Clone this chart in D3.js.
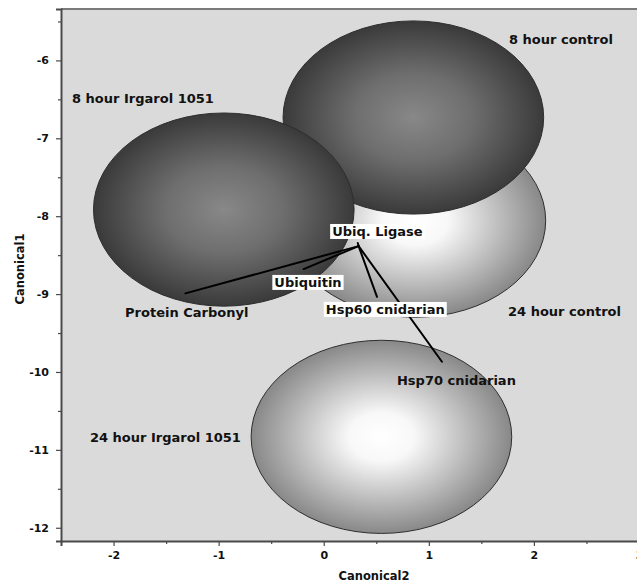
<!DOCTYPE html>
<html>
<head>
<meta charset="utf-8">
<script src="https://cdn.jsdelivr.net/npm/d3@7/dist/d3.min.js"></script>
<style>
  html, body { margin: 0; padding: 0; background: #fff; }
  svg { display: block; }
  text { font-family: "DejaVu Sans", Verdana, sans-serif; font-weight: bold; fill: #111; }
</style>
</head>
<body>
<script>
// Group centroids in canonical space (Canonical2, Canonical1) and their circle radius
const groups = ["8 hour control", "24 hour control", "8 hour Irgarol 1051", "24 hour Irgarol 1051"];
const groupX = [0.853, 0.872, -0.951, 0.549];
const groupY = [-6.733, -8.057, -7.915, -10.833];
const groupRadius = [1.24, 1.24, 1.24, 1.24];
const groupShade = ["dark", "light", "dark", "light"];
// Group name anchors (left / baseline), canonical units
const groupLabelX = [1.763, 1.754, -2.395, -2.224];
const groupLabelY = [-5.79, -9.281, -6.547, -10.899];

// Response variable vectors from the biplot origin
const vecOrigin = [0.332, -8.384];
const variables = ["Protein Carbonyl", "Ubiquitin", "Ubiq. Ligase", "Hsp60 cnidarian", "Hsp70 cnidarian"];
const vecX = [-1.316, -0.191, 0.324, 0.507, 1.125];
const vecY = [-8.991, -8.679, -8.345, -9.035, -9.869];
const varBoxed = [false, true, true, true, false];
const varLabelX = [-1.89, -0.47, 0.08, 0.02, 0.697];
const varLabelY = [-9.29, -8.908, -8.254, -9.255, -10.167];

// Axis ticks
const xTicks = [-2, -1, 0, 1, 2, 3];
const xMinor = [-1.5, -0.5, 0.5, 1.5, 2.5];
const yTicks = [-12, -11, -10, -9, -8, -7, -6];
const yMinor = [-11.5, -10.5, -9.5, -8.5, -7.5, -6.5, -5.5];

const W = 637, H = 585;
const pL = 61, pR = 639, pT = 9, pB = 541;

const x = d3.scaleLinear().domain([-2.5, 3]).range([pL, pR]);
const y = d3.scaleLinear().domain([-12.17, -5.34]).range([pB, pT]);

const svg = d3.select("body").append("svg").attr("width", W).attr("height", H);

const defs = svg.append("defs");
const dark = defs.append("radialGradient").attr("id", "g-dark");
dark.append("stop").attr("offset", "0%").attr("stop-color", "#888888");
dark.append("stop").attr("offset", "45%").attr("stop-color", "#6e6e6e");
dark.append("stop").attr("offset", "100%").attr("stop-color", "#3a3a3a");
const light = defs.append("radialGradient").attr("id", "g-light");
light.append("stop").attr("offset", "0%").attr("stop-color", "#ffffff");
light.append("stop").attr("offset", "25%").attr("stop-color", "#f8f8f8");
light.append("stop").attr("offset", "100%").attr("stop-color", "#888888");
defs.append("clipPath").attr("id", "plot-clip")
  .append("rect").attr("x", pL).attr("y", pT).attr("width", pR - pL).attr("height", pB - pT);

// Plot background
svg.append("rect").attr("x", pL).attr("y", pT).attr("width", pR - pL).attr("height", pB - pT)
  .attr("fill", "#dadada");

const plot = svg.append("g").attr("clip-path", "url(#plot-clip)");

// Circles drawn lightest-first so the 8 hour groups sit on top
const order = [3, 1, 0, 2];
plot.selectAll("ellipse.group").data(order).join("ellipse")
  .attr("class", "group")
  .attr("cx", i => x(groupX[i]))
  .attr("cy", i => y(groupY[i]))
  .attr("rx", i => x(groupRadius[i]) - x(0))
  .attr("ry", i => y(0) - y(groupRadius[i]))
  .attr("fill", i => groupShade[i] === "dark" ? "url(#g-dark)" : "url(#g-light)")
  .attr("stroke", "#2e2e2e")
  .attr("stroke-width", 1);

// Vectors
plot.selectAll("line.vec").data(variables.map((d, i) => i)).join("line")
  .attr("class", "vec")
  .attr("x1", x(vecOrigin[0])).attr("y1", y(vecOrigin[1]))
  .attr("x2", i => x(vecX[i])).attr("y2", i => y(vecY[i]))
  .attr("stroke", "#000").attr("stroke-width", 2).attr("stroke-linecap", "round");

// Group names
plot.selectAll("text.group").data(groups.map((d, i) => i)).join("text")
  .attr("class", "group")
  .attr("x", i => x(groupLabelX[i]))
  .attr("y", i => y(groupLabelY[i]))
  .attr("font-size", 13)
  .text(i => groups[i]);

// Variable names, some on white boxes
const vl = plot.selectAll("g.vlab").data(variables.map((d, i) => i)).join("g").attr("class", "vlab");
vl.append("text")
  .attr("x", i => x(varLabelX[i]))
  .attr("y", i => y(varLabelY[i]))
  .attr("font-size", 13)
  .text(i => variables[i]);
vl.each(function (i) {
  if (!varBoxed[i]) return;
  const g = d3.select(this);
  const bb = g.select("text").node().getBBox();
  g.insert("rect", "text")
    .attr("x", bb.x - 2).attr("y", bb.y).attr("width", bb.width + 4).attr("height", bb.height)
    .attr("fill", "#fff");
});

// Frame line along the top
svg.append("line").attr("x1", pL).attr("x2", pR).attr("y1", pT).attr("y2", pT)
  .attr("stroke", "#7a7a7a").attr("stroke-width", 2);

// Axes (plain hyphen minus signs on the tick labels)
const fmt = d => String(d);
const xAxis = svg.append("g").attr("transform", `translate(0,${pB})`)
  .call(d3.axisBottom(x).tickValues(xTicks).tickSize(5).tickPadding(5).tickFormat(fmt));
const xMin = svg.append("g").attr("transform", `translate(0,${pB})`)
  .call(d3.axisBottom(x).tickValues(xMinor).tickSize(3).tickFormat(""));
const yAxis = svg.append("g").attr("transform", `translate(${pL},0)`)
  .call(d3.axisLeft(y).tickValues(yTicks).tickSize(5).tickPadding(7).tickFormat(fmt));
const yMin = svg.append("g").attr("transform", `translate(${pL},0)`)
  .call(d3.axisLeft(y).tickValues(yMinor).tickSize(3).tickFormat(""));

[xAxis, xMin, yAxis, yMin].forEach(a => {
  a.select(".domain").attr("stroke", "#4a4a4a").attr("stroke-width", 2);
  a.selectAll(".tick line").attr("stroke", "#4a4a4a").attr("stroke-width", 1.2);
  a.selectAll(".tick text").attr("font-family", "'Liberation Sans', Arial, sans-serif")
    .attr("font-weight", "bold").attr("font-size", 11).attr("fill", "#111");
});
xMin.select(".domain").remove();
yMin.select(".domain").remove();

// Axis titles
svg.append("text").attr("x", (pL + pR) / 2 + 24).attr("y", 580)
  .attr("text-anchor", "middle").attr("font-size", 11.5).text("Canonical2");
svg.append("text").attr("transform", `translate(24,${(pT + pB) / 2 - 6}) rotate(-90)`)
  .attr("text-anchor", "middle").attr("font-size", 11.5).text("Canonical1");
</script>
</body>
</html>
